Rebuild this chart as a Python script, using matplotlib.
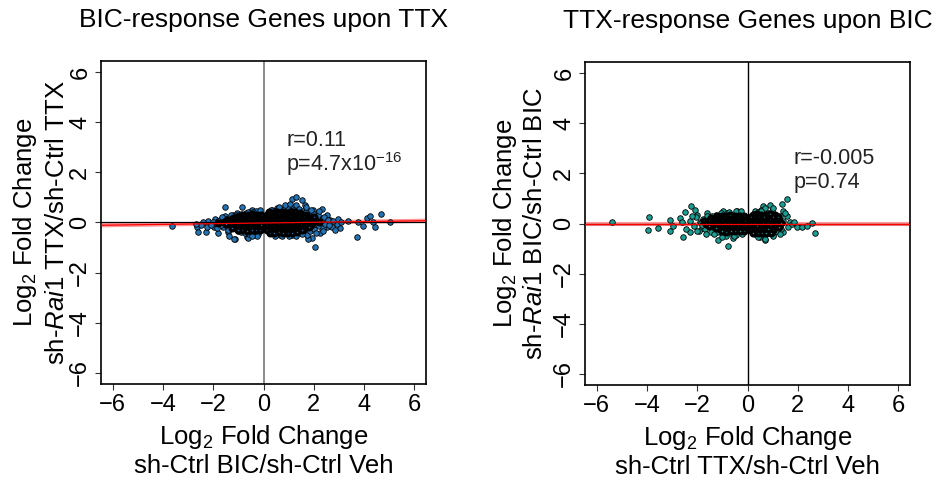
#!/usr/bin/env python

import numpy as np
import matplotlib
matplotlib.use('Agg')
import matplotlib.pyplot as plt

plt.rcParams['font.family'] = ['Liberation Sans', 'DejaVu Sans']
plt.rcParams['mathtext.fontset'] = 'custom'
plt.rcParams['mathtext.rm'] = 'Liberation Sans'
plt.rcParams['mathtext.it'] = 'Liberation Sans:italic'

# left panel: BIC-response genes, x = BIC LFC, y = TTX LFC on sh-Rai1
bic_neg_x = [-3.63, -2.64, -2.62, -2.29, -2.26, -2.2, -1.93, -1.8, -1.97, -1.8, -1.6, -1.53,
	-1.53, -1.33, -1.4, -1.37, -1.14, -1.2, -1.04, -0.87, -0.91, -0.65, -0.7, -0.51, -0.54,
	-0.34, -0.27, -1.16, -0.63, -0.47,
	-0.15, -0.2, -0.18, -0.25, -0.22, -0.3, -0.35, -0.32, -0.4, -0.38, -0.45, -0.5, -0.48,
	-0.55, -0.52, -0.6, -0.62, -0.65, -0.7, -0.72, -0.78, -0.8, -0.85, -0.88, -0.92, -0.95,
	-1.0, -1.05, -1.08, -1.15, -1.2, -1.25, -1.3, -1.38, -1.45, -1.5, -1.6, -1.7, -1.75,
	-1.9, -2.0, -2.1, -0.12, -0.1, -0.28, -0.3, -0.42, -0.6, -0.75, -0.58, -0.2, -0.15,
	-0.9, -1.1, -1.0, -1.3, -1.4, -1.65, -1.85, -2.4, -2.5, -2.7, -0.25, -0.45,
	-0.14, -0.24, -0.36, -0.44, -0.56, -0.68, -0.82, -0.97, -1.12, -0.33, -0.66, -0.86]
bic_neg_y = [-0.13, -0.17, -0.37, -0.39, -0.17, 0.06, 0.13, 0.06, -0.19, -0.41, -0.17, 0.6,
	0.26, 0.03, -0.37, -0.53, -0.67, 0.3, 0.39, 0.63, -0.37, -0.59, 0.37, 0.47, -0.41,
	-0.43, 0.17, -0.67, -0.63, 0.5,
	0.05, -0.1, 0.2, 0.3, -0.25, 0.1, -0.05, 0.22, -0.2, 0.35, 0.05, -0.12, 0.18,
	0.3, -0.3, 0.0, -0.18, 0.15, 0.28, -0.08, 0.08, -0.25, 0.2, -0.02, 0.12, -0.15,
	0.05, 0.22, -0.1, 0.1, -0.2, 0.18, -0.05, 0.06, -0.15, 0.12, 0.0, -0.1, 0.08,
	-0.05, 0.0, -0.12, -0.3, 0.35, 0.45, -0.4, 0.42, 0.42, -0.4, -0.45, -0.45, 0.48,
	0.35, 0.3, -0.35, 0.3, -0.3, 0.2, -0.2, 0.0, -0.1, -0.08, -0.55, -0.55,
	-0.05, 0.12, -0.15, 0.25, 0.1, -0.3, -0.12, 0.25, 0.02, 0.0, 0.05, -0.05]
# dense part of the negative cloud
bic_neg_core_x = [-0.12, -0.3, -0.46, -0.62, -0.81, -0.98,
	-0.2, -0.36, -0.53, -0.7, -0.88, -1.05, -1.22,
	-0.12, -0.27, -0.42, -0.59, -0.75, -0.92, -1.1, -1.28, -1.46,
	-0.2, -0.35, -0.51, -0.67, -0.83, -1.0, -1.18, -1.36, -1.56, -1.8,
	-0.12, -0.28, -0.44, -0.6, -0.77, -0.95, -1.12, -1.31, -1.5,
	-0.2, -0.37, -0.53, -0.71, -0.87, -1.05, -1.25,
	-0.13, -0.3, -0.47, -0.65, -0.85, -1.01]
bic_neg_core_y = [0.31, 0.29, 0.32, 0.28, 0.3, 0.27,
	0.2, 0.22, 0.19, 0.21, 0.18, 0.2, 0.17,
	0.1, 0.11, 0.09, 0.12, 0.1, 0.08, 0.11, 0.09, 0.1,
	0.0, 0.02, -0.01, 0.01, 0.0, 0.02, -0.02, 0.0, 0.01, -0.01,
	-0.1, -0.09, -0.11, -0.1, -0.12, -0.09, -0.1, -0.11, -0.08,
	-0.2, -0.21, -0.19, -0.22, -0.2, -0.18, -0.2,
	-0.3, -0.31, -0.29, -0.32, -0.28, -0.3]

bic_pos_x = [1.12, 1.29, 1.52, 1.65, 1.19, 2.32, 1.98, 2.52, 3.38, 3.71, 3.78, 3.95, 4.11,
	4.24, 4.35, 4.44, 4.67, 3.05, 2.92, 2.72, 2.05, 1.92, 1.79, 1.72, 1.06, 0.66, 2.25,
	2.38, 2.12, 2.65, 2.52, 0.33, 0.53, 5.04,
	0.15, 0.12, 0.14, 0.2, 0.22, 0.25, 0.28, 0.3, 0.32, 0.35, 0.38, 0.4, 0.42, 0.45, 0.48,
	0.5, 0.52, 0.55, 0.58, 0.6, 0.62, 0.65, 0.68, 0.7, 0.72, 0.75, 0.78, 0.8, 0.82, 0.85,
	0.88, 0.9, 0.92, 0.95, 0.98, 1.0, 1.02, 1.05, 1.08, 1.1, 1.12, 1.15, 1.18, 1.2, 1.22,
	1.25, 1.28, 1.3, 1.32, 1.35, 1.38, 1.4, 1.42, 1.45, 1.48, 1.5, 1.52, 1.55, 1.58, 1.6,
	1.62, 1.65, 1.68, 1.7, 1.75, 1.78, 1.8, 1.85, 1.88, 1.9, 1.95, 2.0, 2.02, 2.08, 2.1,
	2.15, 2.2, 2.28, 2.35, 2.4, 2.45, 2.55, 2.6, 2.75, 2.85, 2.95, 3.1,
	0.18, 0.3, 0.45, 0.55, 0.62, 0.75, 0.85, 0.95, 1.05, 1.15, 1.25, 1.35, 1.45, 0.4, 0.5,
	0.7, 0.9, 1.1, 1.3, 0.3, 0.6, 0.85, 1.05, 0.45, 0.75, 1.0, 1.3, 1.55, 1.7, 1.9, 2.2,
	2.1, 2.35]
bic_pos_y = [0.94, 1.03, 0.9, 0.7, 0.63, 0.54, 0.5, 0.3, 0.07, -0.57, 0.03, -0.13, 0.17,
	0.26, 0.01, -0.19, 0.33, -0.21, -0.07, -0.17, -0.96, -0.63, -0.66, -0.5, -0.5, -0.5, -0.43,
	0.17, -0.03, 0.1, -0.17, 0.5, 0.57, 0.01,
	0.0, 0.2, -0.22, 0.35, -0.35, 0.1, -0.1, 0.25, -0.28, 0.42, 0.02, -0.42, 0.15, -0.18, 0.32,
	-0.05, 0.5, -0.35, 0.22, 0.08, -0.2, 0.4, -0.45, 0.0, 0.28, -0.12, 0.55, -0.3, 0.15, -0.02,
	0.38, -0.4, 0.22, -0.15, 0.6, 0.05, -0.28, 0.45, -0.08, 0.3, -0.48, 0.12, -0.2, 0.5, 0.0,
	-0.35, 0.25, 0.7, -0.1, 0.4, -0.25, 0.1, 0.55, -0.05, -0.42, 0.3, 0.18, -0.18, 0.45, 0.02,
	-0.3, 0.25, -0.08, 0.4, 0.12, -0.2, 0.3, -0.35, 0.05, 0.2, -0.1, 0.35, -0.25, 0.1, -0.05,
	0.28, -0.15, 0.05, -0.22, 0.2, -0.05, 0.08, -0.12, 0.05, -0.3, 0.12, 0.0,
	0.1, -0.02, 0.05, 0.12, -0.08, 0.1, 0.25, 0.0, 0.18, -0.05, 0.08, 0.2, 0.05, 0.28, -0.22,
	-0.25, 0.1, -0.15, -0.02, 0.5, 0.6, 0.68, 0.72, -0.55, -0.55, -0.55, -0.55, -0.45, 0.6,
	0.5, 0.45, -0.4, -0.35]
# dense part of the positive cloud
bic_pos_core_x = [0.2, 0.38, 0.55, 0.72, 0.9, 1.08, 1.25, 1.45,
	0.13, 0.28, 0.45, 0.62, 0.8, 0.98, 1.15, 1.32, 1.5, 1.7,
	0.2, 0.36, 0.52, 0.7, 0.87, 1.05, 1.22, 1.4, 1.6, 1.8, 2.0,
	0.12, 0.27, 0.44, 0.6, 0.77, 0.95, 1.12, 1.3, 1.48, 1.68, 1.9,
	0.2, 0.35, 0.52, 0.68, 0.85, 1.02, 1.2, 1.38, 1.56, 1.75, 1.95, 2.2,
	0.13, 0.28, 0.45, 0.6, 0.78, 0.95, 1.12, 1.3, 1.5, 1.7, 1.9,
	0.2, 0.37, 0.53, 0.7, 0.88, 1.05, 1.22, 1.4, 1.6, 1.8,
	0.14, 0.3, 0.47, 0.65, 0.82, 1.0, 1.18, 1.36, 1.55,
	0.25, 0.42, 0.6, 0.78, 0.96, 1.15, 1.32]
bic_pos_core_y = [0.41, 0.39, 0.42, 0.4, 0.38, 0.41, 0.4, 0.39,
	0.3, 0.31, 0.29, 0.32, 0.3, 0.28, 0.31, 0.3, 0.29, 0.31,
	0.2, 0.21, 0.19, 0.2, 0.22, 0.2, 0.18, 0.21, 0.2, 0.19, 0.2,
	0.1, 0.09, 0.11, 0.1, 0.12, 0.1, 0.09, 0.11, 0.1, 0.08, 0.1,
	0.0, 0.01, -0.01, 0.02, 0.0, -0.02, 0.01, 0.0, 0.01, -0.01, 0.0, 0.02,
	-0.1, -0.11, -0.09, -0.1, -0.12, -0.1, -0.08, -0.11, -0.1, -0.09, -0.1,
	-0.2, -0.19, -0.21, -0.2, -0.22, -0.2, -0.18, -0.21, -0.2, -0.19,
	-0.3, -0.31, -0.29, -0.3, -0.32, -0.3, -0.28, -0.31, -0.3,
	-0.4, -0.41, -0.39, -0.4, -0.42, -0.4, -0.38]

# right panel: TTX-response genes, x = TTX LFC, y = BIC LFC on sh-Rai1
ttx_neg_x = [-5.39, -3.93, -3.96, -3.56, -3.09, -3.09, -2.98, -2.58, -2.69, -2.49, -2.26,
	-2.09, -2.29, -2.03, -1.89, -1.83, -1.16, -0.77, -0.57, -1.63, -0.96, -0.43,
	-0.12, -0.15, -0.18, -0.2, -0.22, -0.25, -0.28, -0.3, -0.33, -0.36, -0.4, -0.42, -0.45,
	-0.48, -0.52, -0.55, -0.58, -0.62, -0.65, -0.68, -0.72, -0.75, -0.8, -0.83, -0.86,
	-0.9, -0.94, -0.98, -1.02, -1.06, -1.1, -1.15, -1.2, -1.25, -1.3, -1.35, -1.4, -1.45,
	-1.5, -1.55, -1.6, -1.7, -1.78, -1.85, -1.95, -2.05, -2.15, -2.3, -2.45, -2.6,
	-0.2, -0.35, -0.5, -0.65, -0.8, -0.95, -1.1, -1.25, -1.4, -0.3, -0.6, -0.9, -1.2,
	-1.5, -1.8, -2.2, -0.45, -0.75, -1.05, -0.25, -0.55, -0.85, -1.0, -1.35, -1.65, -2.0]
ttx_neg_y = [0.08, 0.26, -0.25, -0.18, 0.15, -0.28, -0.09, -0.52, 0.21, 0.44, 0.71, 0.52,
	-0.32, 0.35, 0.08, -0.18, -0.65, -0.89, -0.58, 0.41, 0.48, 0.48,
	0.02, 0.3, -0.25, 0.15, -0.4, 0.38, -0.1, 0.22, -0.3, 0.05, 0.4, -0.18, 0.12,
	-0.45, 0.28, -0.05, 0.35, -0.28, 0.1, -0.38, 0.25, -0.12, 0.42, 0.0, -0.3,
	0.3, -0.15, 0.15, -0.42, 0.38, -0.05, 0.2, -0.25, 0.35, 0.05, -0.18, 0.28, -0.35,
	0.12, -0.08, 0.3, -0.22, 0.18, 0.02, -0.3, 0.25, -0.1, 0.12, -0.2, 0.05,
	-0.05, 0.08, -0.15, 0.2, 0.02, -0.05, 0.1, -0.12, 0.0, -0.2, 0.0, 0.18, -0.32,
	0.22, -0.05, 0.3, 0.48, 0.45, 0.42, 0.48, -0.5, -0.48, -0.55, -0.4, -0.42, -0.3]
ttx_neg_core_x = [-0.15, -0.32, -0.5, -0.68, -0.85, -1.02, -1.2,
	-0.22, -0.4, -0.57, -0.75, -0.93, -1.1, -1.28, -1.45,
	-0.12, -0.3, -0.48, -0.65, -0.83, -1.0, -1.18, -1.36, -1.55, -1.75,
	-0.2, -0.38, -0.55, -0.73, -0.9, -1.08, -1.27, -1.45, -1.65,
	-0.12, -0.3, -0.47, -0.65, -0.82, -1.0, -1.17, -1.35, -1.55,
	-0.2, -0.38, -0.55, -0.72, -0.9, -1.08, -1.25,
	-0.15, -0.32, -0.5, -0.67, -0.85, -1.0]
ttx_neg_core_y = [0.31, 0.29, 0.3, 0.32, 0.28, 0.3, 0.29,
	0.2, 0.21, 0.19, 0.2, 0.22, 0.18, 0.2, 0.21,
	0.1, 0.11, 0.09, 0.1, 0.12, 0.1, 0.08, 0.11, 0.1, 0.09,
	0.0, 0.01, -0.01, 0.02, 0.0, -0.02, 0.01, 0.0, -0.01,
	-0.1, -0.11, -0.09, -0.1, -0.12, -0.1, -0.08, -0.11, -0.1,
	-0.2, -0.19, -0.21, -0.2, -0.22, -0.2, -0.18,
	-0.3, -0.31, -0.29, -0.3, -0.32, -0.28]

ttx_pos_x = [1.56, 1.36, 0.9, 0.63, 0.3, 1.43, 1.56, 1.69, 1.96, 2.16, 2.36, 2.56, 2.69, 0.7,
	1.03, 1.43, 0.5,
	0.12, 0.15, 0.18, 0.2, 0.22, 0.25, 0.28, 0.3, 0.33, 0.36, 0.4, 0.42, 0.45, 0.48, 0.52,
	0.55, 0.58, 0.62, 0.65, 0.68, 0.72, 0.75, 0.8, 0.83, 0.86, 0.9, 0.94, 0.98, 1.02, 1.06,
	1.1, 1.15, 1.2, 1.25, 1.3, 1.35, 1.4, 1.5, 1.6, 1.75, 1.85,
	0.2, 0.35, 0.5, 0.65, 0.8, 0.95, 1.1, 0.3, 0.6, 0.9, 1.2, 0.45, 0.75, 1.05, 0.4, 0.7,
	1.0, 1.3, 0.55, 0.85]
ttx_pos_y = [0.97, 0.77, 0.75, 0.68, 0.48, 0.48, 0.28, 0.08, -0.12, -0.14, -0.09, 0.04, -0.36,
	-0.65, -0.45, -0.32, -0.52,
	0.0, 0.25, -0.3, 0.12, -0.15, 0.38, -0.4, 0.05, 0.3, -0.22, 0.45, -0.05, 0.2, -0.35, 0.55,
	-0.12, 0.32, -0.45, 0.1, 0.6, -0.25, 0.18, 0.42, -0.38, 0.0, 0.25, -0.18, 0.5, -0.5, 0.1,
	0.35, -0.3, 0.2, -0.05, 0.3, -0.2, 0.12, 0.4, -0.15, 0.0, 0.05,
	0.05, -0.08, 0.1, -0.02, 0.15, -0.1, 0.0, 0.15, -0.15, 0.05, -0.05, -0.25, 0.28, 0.2,
	-0.55, -0.6, 0.62, -0.4, 0.5, -0.28]
ttx_pos_core_x = [0.2, 0.38, 0.55, 0.72, 0.9, 1.1,
	0.13, 0.3, 0.47, 0.65, 0.82, 1.0, 1.2,
	0.2, 0.37, 0.55, 0.72, 0.9, 1.08, 1.27,
	0.12, 0.28, 0.45, 0.62, 0.8, 0.97, 1.15, 1.35,
	0.2, 0.37, 0.54, 0.72, 0.9, 1.08, 1.25,
	0.13, 0.3, 0.47, 0.65, 0.82, 1.0,
	0.22, 0.4, 0.58, 0.75, 0.92]
ttx_pos_core_y = [0.35, 0.36, 0.34, 0.35, 0.37, 0.34,
	0.25, 0.24, 0.26, 0.25, 0.23, 0.25, 0.24,
	0.12, 0.13, 0.11, 0.12, 0.14, 0.12, 0.11,
	0.0, 0.01, -0.01, 0.0, 0.02, 0.0, -0.01, 0.01,
	-0.12, -0.11, -0.13, -0.12, -0.1, -0.12, -0.13,
	-0.25, -0.24, -0.26, -0.25, -0.23, -0.25,
	-0.38, -0.37, -0.39, -0.38, -0.36]

# fitted lines
fit_slope = [0.014, 0.0]
fit_intercept = [-0.02, 0.0]
stats_text = [['r=0.11', 'p=4.7x10$^{-16}$'], ['r=-0.005', 'p=0.74']]
titles = ['BIC-response Genes upon TTX', 'TTX-response Genes upon BIC']
xlabels = [['Log$_2$ Fold Change', 'sh-Ctrl BIC/sh-Ctrl Veh'],
	['Log$_2$ Fold Change', 'sh-Ctrl TTX/sh-Ctrl Veh']]
ylabels = [['Log$_2$ Fold Change', 'sh-$\\it{Rai1}$ TTX/sh-Ctrl TTX'],
	['Log$_2$ Fold Change', 'sh-$\\it{Rai1}$ BIC/sh-Ctrl BIC']]
ticks = [-6, -4, -2, 0, 2, 4, 6]

fig = plt.figure(figsize=(9.43, 4.83), dpi=100)
axes = [fig.add_axes([0.1071, 0.2050, 0.3447, 0.6687]),
	fig.add_axes([0.6204, 0.2029, 0.3447, 0.6687])]

panels = [(bic_neg_x + bic_pos_x, bic_neg_y + bic_pos_y,
		bic_neg_core_x + bic_pos_core_x, bic_neg_core_y + bic_pos_core_y, '#2474b5', '#8a8a8a'),
	(ttx_neg_x + ttx_pos_x, ttx_neg_y + ttx_pos_y,
		ttx_neg_core_x + ttx_pos_core_x, ttx_neg_core_y + ttx_pos_core_y, '#1c9e93', 'black')]

stat_pos = [(0.57, 0.755), (0.64, 0.70)]
ylab_pos = [(-0.234, -0.135), (-0.246, -0.154)]

for i, ax in enumerate(axes):
	x, y, cx, cy, col, vcol = panels[i]
	lim = 6.47
	ax.set_xlim(-lim, lim)
	ax.set_ylim(-6.45, 6.45)
	ax.axvline(0, color=vcol, lw=1.4 if i == 0 else 1.0, zorder=1)
	xx = np.array([-lim, lim])
	ax.plot(xx, fit_intercept[i] + fit_slope[i] * xx, color='#ff9999', lw=3, zorder=1)
	ax.scatter(x, y, s=16, c=col, edgecolors='black', linewidths=0.6, zorder=2)
	# crowded genes: heavy outlines pile up into the dark core
	ax.scatter(cx, cy, s=12, c=col, edgecolors='black', linewidths=2.3, zorder=2)
	ax.axhline(0, color='black', lw=0.9, zorder=3)
	ax.plot(xx, fit_intercept[i] + fit_slope[i] * xx, color='red', lw=0.9, zorder=4)

	ax.set_xticks(ticks)
	ax.set_yticks(ticks)
	ax.set_xticklabels([str(t).replace('-', '\u2212') for t in ticks])
	ax.set_yticklabels([str(t).replace('-', '\u2212') for t in ticks], rotation=90, va='center')
	ax.tick_params(direction='out', length=4, width=0.8, labelsize=17, pad=3, color='#333333')
	for s in ax.spines.values():
		s.set_linewidth(1.2)

	ax.text(0.5, 1.127, titles[i], transform=ax.transAxes, ha='center', va='center', fontsize=19)
	ax.text(0.5, -0.164, xlabels[i][0], transform=ax.transAxes, ha='center', va='center', fontsize=18.5)
	ax.text(0.5, -0.253, xlabels[i][1], transform=ax.transAxes, ha='center', va='center', fontsize=18.5)
	ax.text(ylab_pos[i][0], 0.5, ylabels[i][0], transform=ax.transAxes, ha='center', va='center',
		rotation=90, fontsize=18.5)
	ax.text(ylab_pos[i][1], 0.5, ylabels[i][1], transform=ax.transAxes, ha='center', va='center',
		rotation=90, fontsize=18.5)
	sx, sy = stat_pos[i]
	ax.text(sx, sy, stats_text[i][0], transform=ax.transAxes, ha='left', va='center', fontsize=15.5,
		color='#222222')
	ax.text(sx, sy - 0.073, stats_text[i][1], transform=ax.transAxes, ha='left', va='center',
		fontsize=15.5, color='#222222')

fig.savefig('out.png', dpi=100)
